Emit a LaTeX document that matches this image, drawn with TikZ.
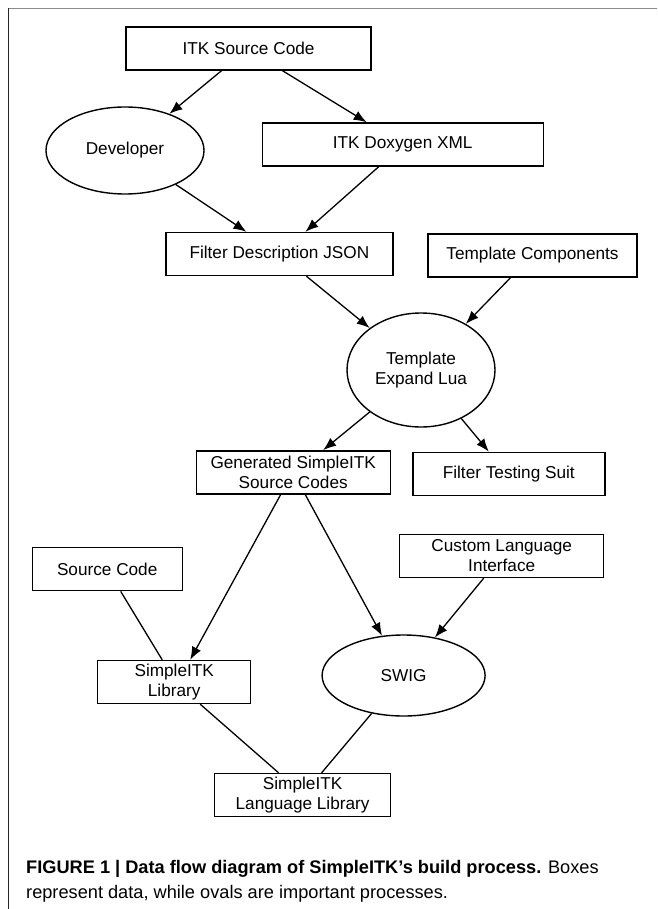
\documentclass[tikz,border=0pt]{standalone}
\usepackage{fontspec}
\setmainfont{Liberation Sans}
\usetikzlibrary{shapes.geometric,arrows.meta}
\begin{document}
\begin{tikzpicture}[x=1pt,y=-1pt,
    font=\fontsize{17.2}{20}\selectfont,
    caja/.style={draw,line width=1.4pt,minimum height=43pt,inner sep=1pt,align=center},
    ovalo/.style={draw,line width=1.4pt,ellipse,inner sep=0pt,align=center},
    flecha/.style={-{Latex[length=13pt,width=10pt]},line width=1.3pt},
    linea/.style={line width=1.3pt}]
                \useasboundingbox (0,0) rectangle (657,909);

                % Marco
                \draw[line width=1.3pt,gray!90] (8,8.5) -- (657,8.5);
                \draw[line width=1.3pt,black!85] (8.5,8) -- (8.5,909);

                % Datos (cajas)
                \node[caja,minimum width=245pt] (src) at (248.5,48.5) {ITK Source Code};
                \node[caja,minimum width=281pt] (doxy) at (402.7,144.5) {ITK Doxygen XML};
                \node[caja,minimum width=227pt] (json) at (279.4,254) {Filter Description JSON};
                \node[caja,minimum width=209pt] (tcomp) at (532.5,255.5) {Template Components};
                \node[caja,minimum width=194pt] (gen) at (293.2,472.3) {Generated SimpleITK\\Source Codes};
                \node[caja,minimum width=192pt] (test) at (508.8,473.8) {Filter Testing Suit};
                \node[caja,minimum width=150pt] (src2) at (107.2,569.2) {Source Code};
                \node[caja,minimum width=204pt] (cli) at (501.7,556) {Custom Language\\Interface};
                \node[caja,minimum width=153pt] (lib) at (174.2,682) {SimpleITK\\Library};
                \node[caja,minimum width=176pt] (lang) at (302.6,795) {SimpleITK\\Language Library};

                % Procesos (ovalos)
                \node[ovalo,minimum width=158pt,minimum height=87pt] (dev) at (125,150.5) {Developer};
                \node[ovalo,minimum width=148pt,minimum height=114pt] (lua) at (421,370) {Template\\Expand Lua};
                \node[ovalo,minimum width=163pt,minimum height=81pt] (swig) at (403.6,675.5) {SWIG};

                % Flechas
                \draw[flecha] ([xshift=-27pt]src.south) -- (dev);
                \draw[flecha] ([xshift=34pt]src.south) -- ([xshift=-36pt]doxy.north);
                \draw[flecha] (dev) -- ([xshift=-33pt]json.north);
                \draw[flecha] ([xshift=-24pt]doxy.south) -- ([xshift=26pt]json.north);
                \draw[flecha] ([xshift=27pt]json.south) -- (lua);
                \draw[flecha] ([xshift=-22pt]tcomp.south) -- (lua);
                \draw[flecha] (lua) -- ([xshift=30pt]gen.north);
                \draw[flecha] (lua) -- ([xshift=-20pt]test.north);
                \draw[flecha] ([xshift=-12.5pt]gen.south) -- ([xshift=16pt]lib.north);
                \draw[flecha] ([xshift=12pt]gen.south) -- (swig);
                \draw[flecha] ([xshift=-18pt]cli.south) -- (swig);

                % Lineas sin flecha
                \draw[linea] ([xshift=13.5pt]src2.south) -- ([xshift=-12pt]lib.north);
                \draw[linea] ([xshift=26pt]lib.south) -- ([xshift=-24pt]lang.north);
                \draw[linea] (swig) -- ([xshift=19pt]lang.north);

                % Leyenda
                \node[anchor=base west,inner sep=0pt,font=\fontsize{18.2}{21}\selectfont] (cap1) at (26,873) {\textbf{FIGURE 1 | Data flow diagram of SimpleITK’s build process.} Boxes};
                \node[anchor=base west,inner sep=0pt,font=\fontsize{18.2}{21}\selectfont] (cap2) at (26,898) {represent data, while ovals are important processes.};
            \end{tikzpicture}
\end{document}
